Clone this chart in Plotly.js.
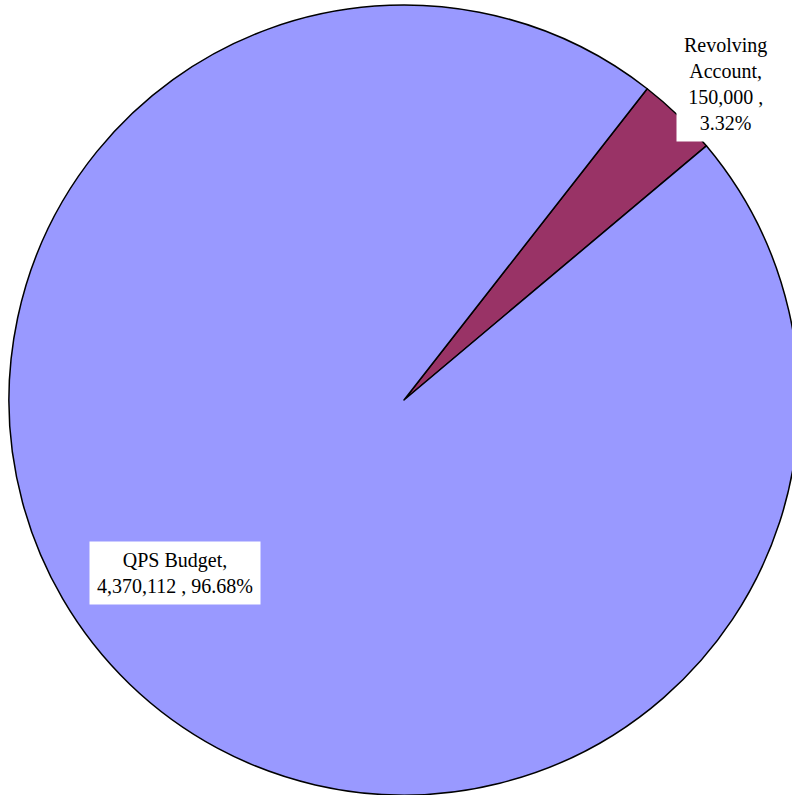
<!DOCTYPE html>
<html>
<head>
<meta charset="utf-8">
<script src="https://cdn.plot.ly/plotly-3.0.1.min.js"></script>
<style>
html, body { margin: 0; padding: 0; overflow: hidden; background: #fff; width: 792px; height: 795px; }
#chart { width: 808px; height: 795px; }
</style>
</head>
<body>
<div id="chart"></div>
<script>
const labels = ['Revolving Account', 'QPS Budget'];
const values = [150000, 4370112];
const colors = ['#993366', '#9999FF'];

const total = values.reduce((a, b) => a + b, 0);
function fmt(v) { return v.toLocaleString('en-US'); }
function pct(v) { return (v / total * 100).toFixed(2) + '%'; }

const W = 808, H = 795, T = 5;
function px(x) { return x / W; }
function py(y) { return (H - y) / (H - T); }

const trace = {
  type: 'pie',
  labels: labels,
  values: values,
  sort: false,
  direction: 'clockwise',
  rotation: 38,
  textinfo: 'none',
  hoverinfo: 'label+value+percent',
  marker: { colors: colors, line: { color: '#000000', width: 1.5 } },
  showlegend: false
};

const font = { family: '"Liberation Serif", "Times New Roman", serif', size: 20, color: '#000000' };

const annotations = [
  {
    text: 'Revolving<br>Account,<br>' + fmt(values[0]) + ' ,<br>' + pct(values[0]),
    x: px(725), y: py(84), xref: 'paper', yref: 'paper',
    xanchor: 'center', yanchor: 'middle', showarrow: false,
    bgcolor: '#ffffff', borderpad: 7, font: font
  },
  {
    text: 'QPS Budget,<br>' + fmt(values[1]) + ' , ' + pct(values[1]),
    x: px(175), y: py(573), xref: 'paper', yref: 'paper',
    xanchor: 'center', yanchor: 'middle', showarrow: false,
    bgcolor: '#ffffff', borderpad: 7, font: font
  }
];

const layout = {
  width: W, height: H,
  margin: { l: 0, r: 0, t: T, b: 0, pad: 0 },
  paper_bgcolor: '#ffffff',
  plot_bgcolor: '#ffffff',
  showlegend: false,
  annotations: annotations
};

Plotly.newPlot('chart', [trace], layout, { displayModeBar: false, staticPlot: true });
</script>
</body>
</html>
